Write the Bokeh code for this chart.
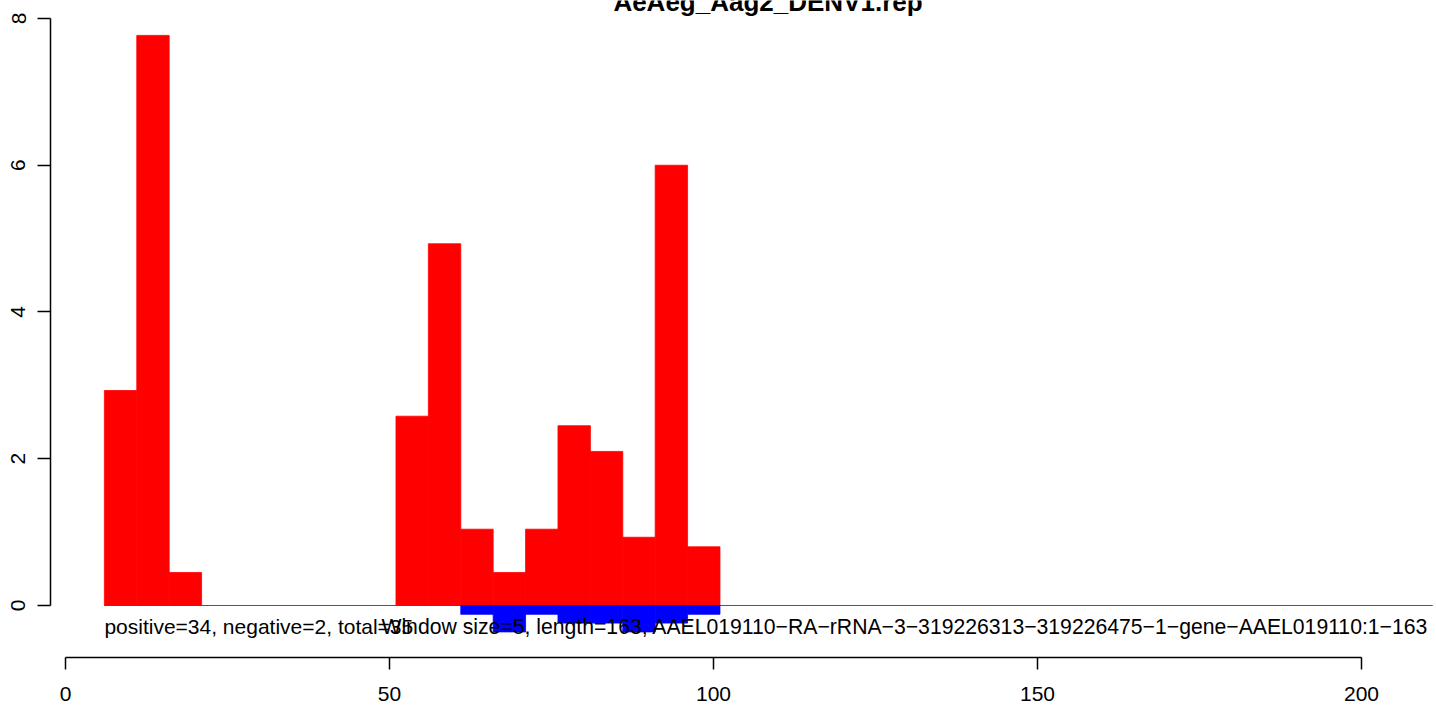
from bokeh.plotting import figure
from bokeh.models import Range1d, LinearAxis, FixedTicker, Label
from bokeh.embed import file_html
from bokeh.resources import INLINE

# ---- data ----
window = 5
bin_left = [6, 11, 16, 51, 56, 61, 66, 71, 76, 81, 86, 91, 96]
positive = [2.93, 7.77, 0.45, 2.58, 4.93, 1.04, 0.45, 1.04, 2.45, 2.10, 0.93, 6.00, 0.80]
neg_left = [61, 66, 71, 76, 81, 86, 91, 96]
negative = [-0.12, -0.36, -0.12, -0.24, -0.24, -0.36, -0.24, -0.12]
x_ticks = [0, 50, 100, 150, 200]
y_ticks = [0, 2, 4, 6, 8]
baseline_x = [6, 211]
title_text = "AeAeg_Aag2_DENV1.rep"
info_left = "positive=34, negative=2, total=35"
info_right = ("Window size=5, length=163, "
              "AAEL019110\u2212RA\u2212rRNA\u22123\u2212319226313\u2212319226475\u22121\u2212gene\u2212AAEL019110:1\u2212163")

FONT = "Liberation Sans"

p = figure(width=1436, height=707, output_backend="svg", toolbar_location=None,
           x_range=Range1d(-2.3148, 211.574), y_range=Range1d(-0.7087, 8.2453),
           x_axis_type=None, y_axis_type=None, tools="")
p.title.text = ""
p.min_border = 0
p.min_border_left = 50
p.min_border_right = 0
p.min_border_top = 0
p.min_border_bottom = 50
p.outline_line_color = None
p.xgrid.visible = False
p.ygrid.visible = False
p.background_fill_color = "white"
p.border_fill_color = "white"

# zero line
p.line(x=baseline_x, y=[0, 0], line_color="#555555", line_width=1)

# bars
p.quad(left=bin_left, right=[b + window for b in bin_left], bottom=0, top=positive,
       fill_color="#FF0000", line_color="#FF0000", line_width=0.8)
p.quad(left=neg_left, right=[b + window for b in neg_left], top=0, bottom=negative,
       fill_color="#0000FF", line_color="#0000FF", line_width=0.8)

# axes
xa = LinearAxis(ticker=FixedTicker(ticks=x_ticks), bounds=(0, 200))
xa.axis_line_width = 1.5
xa.major_tick_line_width = 1.5
xa.major_tick_out = 12
xa.major_tick_in = 0
xa.minor_tick_out = 0
xa.minor_tick_in = 0
xa.major_label_standoff = 17
xa.major_label_text_font = FONT
xa.major_label_text_font_size = "21px"
xa.major_label_text_color = "black"
p.add_layout(xa, "below")

ya = LinearAxis(ticker=FixedTicker(ticks=y_ticks), bounds=(0, 8))
ya.axis_line_width = 1.5
ya.major_tick_line_width = 1.5
ya.major_tick_out = 13
ya.major_tick_in = 0
ya.minor_tick_out = 0
ya.minor_tick_in = 0
ya.major_label_standoff = 12
ya.major_label_orientation = "vertical"
ya.major_label_text_font = FONT
ya.major_label_text_font_size = "21px"
ya.major_label_text_color = "black"
p.add_layout(ya, "left")

# texts
p.add_layout(Label(x=bin_left[0], y=-0.2862, text=info_left, text_font=FONT,
                   text_font_size="21px", text_align="left", text_baseline="alphabetic",
                   text_color="black"))
p.add_layout(Label(x=210.34, y=-0.2862, text=info_right, text_font=FONT,
                   text_font_size="21.2px", text_align="right", text_baseline="alphabetic",
                   text_color="black"))
p.add_layout(Label(x=108.41, y=8.2249, text=title_text, text_font=FONT,
                   text_font_size="26px", text_font_style="bold", text_align="center",
                   text_baseline="alphabetic", text_color="black"))

open("out.html", "w").write(file_html(p, INLINE))
